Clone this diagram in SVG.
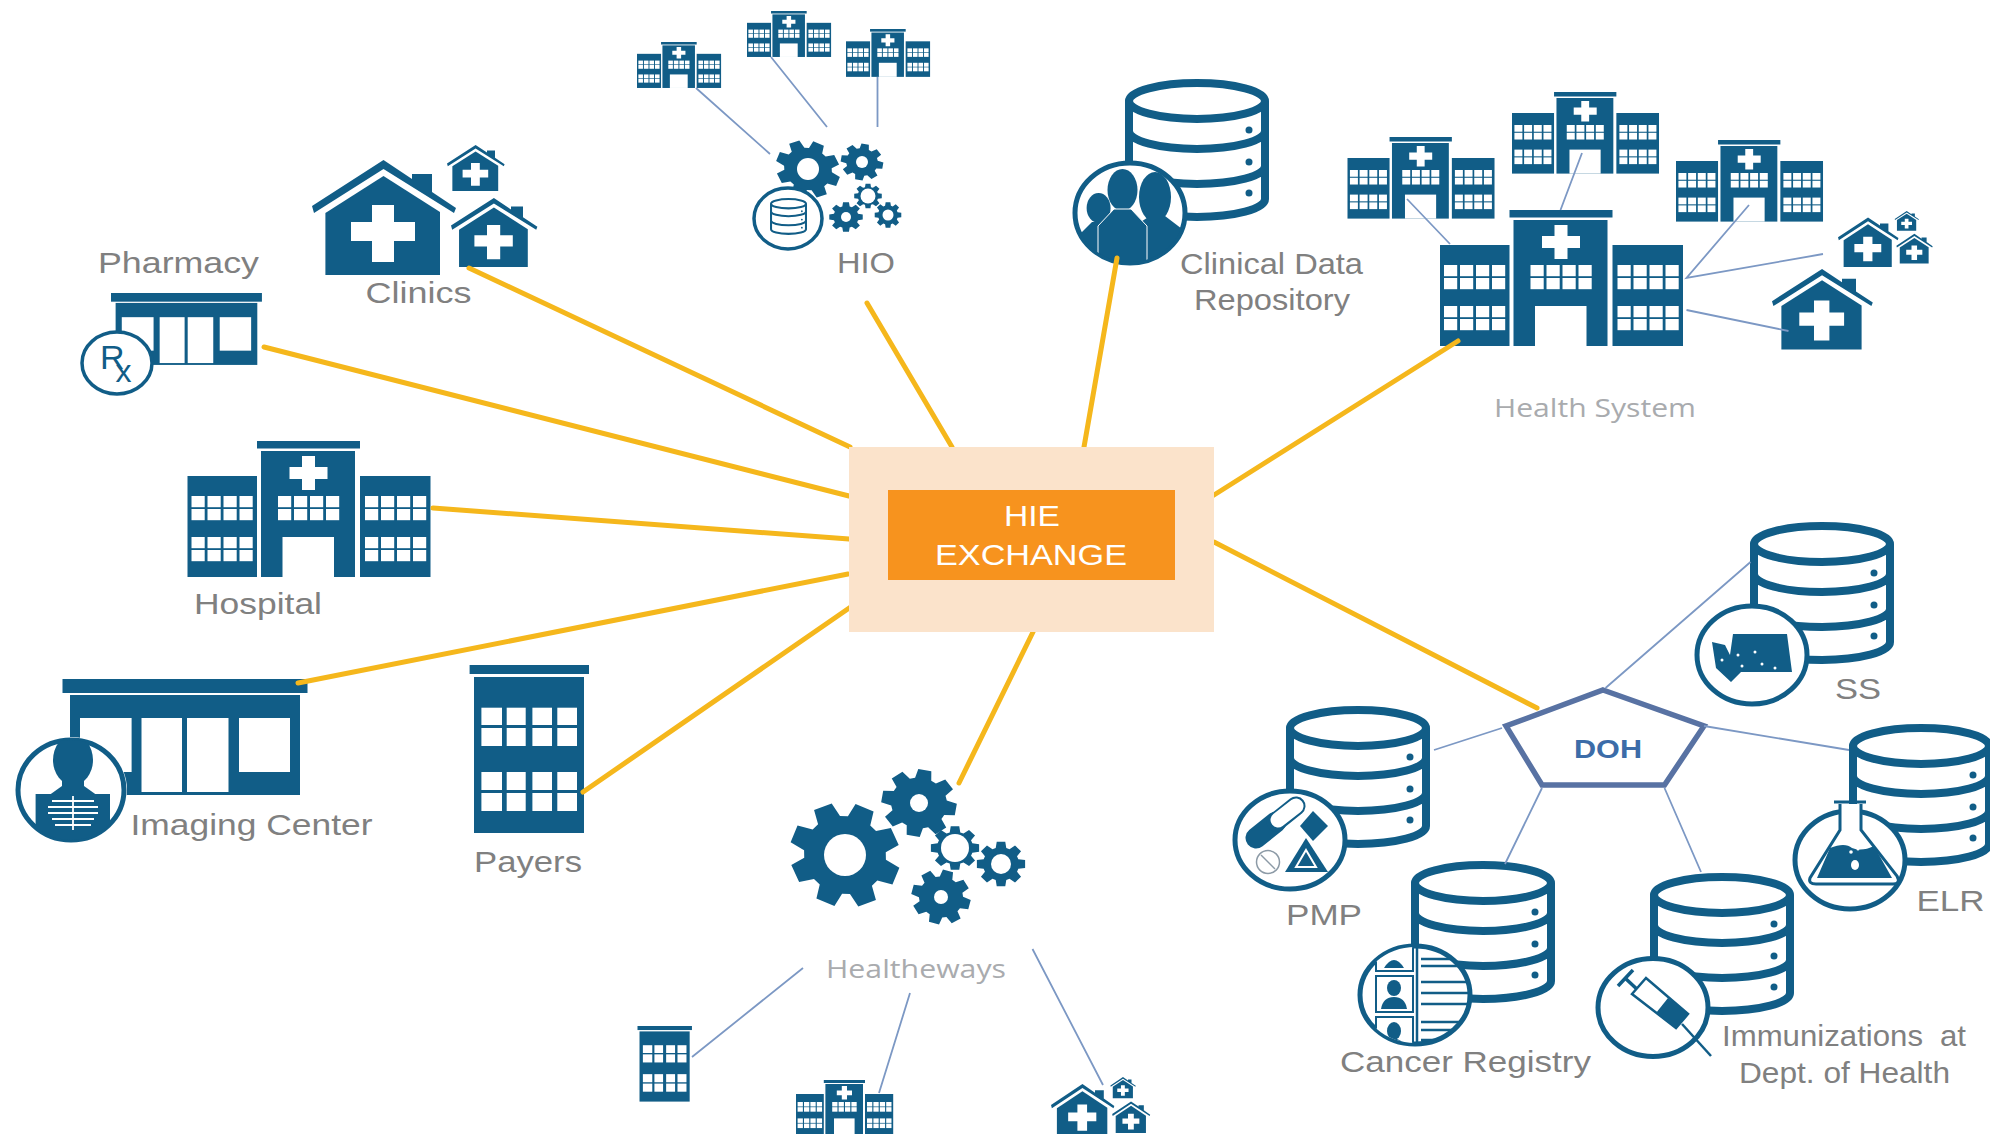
<svg xmlns="http://www.w3.org/2000/svg" width="1990" height="1134" viewBox="0 0 1990 1134">
<style>
.b{fill:#115d87}
.w{fill:#fff}
.ol{fill:#fff;stroke:#115d87;stroke-width:5}
.y{stroke:#f5b71c;stroke-width:5;fill:none;stroke-linecap:round}
.t{stroke:#7c98c4;stroke-width:1.8;fill:none}
.lb{font-family:"Liberation Sans",Arial,sans-serif;font-size:30px;fill:#808080}
.lt{font-family:"Open Sans","Liberation Sans",sans-serif;font-size:26px;fill:#a9abae}
.db{fill:none;stroke:#115d87;stroke-width:8}
</style>
<defs>
<g id="win" class="w"><rect width="13.2" height="11.2"/><rect x="16" width="13.2" height="11.2"/><rect x="32" width="13.2" height="11.2"/><rect x="48" width="13.2" height="11.2"/><rect y="13" width="13.2" height="11.2"/><rect x="16" y="13" width="13.2" height="11.2"/><rect x="32" y="13" width="13.2" height="11.2"/><rect x="48" y="13" width="13.2" height="11.2"/></g>
<g id="hosp">
<rect class="b" y="35" width="69.5" height="101"/><rect class="b" x="69.5" width="103" height="7.5"/><rect class="b" x="73.5" y="10" width="94" height="126"/><rect class="b" x="172.5" y="35" width="70.5" height="101"/>
<rect class="w" x="95" y="96" width="51.5" height="40"/>
<path class="w" d="M114.5,15H127.500V26H140V38H127.500V49H114.500V38H102V26H114.500Z"/>
<use href="#win" x="4" y="55"/><use href="#win" x="4" y="96"/><use href="#win" x="90.500" y="55"/><use href="#win" x="177.500" y="55"/><use href="#win" x="177.500" y="96"/>
</g>
<g id="house">
<path class="b" d="M0,46L71.500,0L100,19V14H120V32L144,48L142,53L71.500,9L2,53Z"/>
<path class="b" d="M13.400,53L71.500,16L128,52V115H13.400Z"/>
<path class="w" d="M60,45H82V62H103V81H82V102H60V81H39V62H60Z"/>
</g>
<g id="clinic"><use href="#house" y="15"/><use href="#house" transform="translate(135,0) scale(.4)"/><use href="#house" transform="translate(139,53) scale(.6)"/></g>
<path id="gear" class="b" d="M35.400,-10.800L49.200,-8.700L49.200,8.700L35.400,10.800L32.700,17.400L40.900,28.600L28.600,40.900L17.400,32.700L10.800,35.400L8.700,49.200L-8.700,49.200L-10.800,35.400L-17.400,32.700L-28.600,40.900L-40.900,28.600L-32.700,17.400L-35.400,10.800L-49.200,8.700L-49.200,-8.700L-35.400,-10.800L-32.700,-17.400L-40.900,-28.600L-28.600,-40.900L-17.400,-32.700L-10.800,-35.400L-8.700,-49.200L8.700,-49.200L10.800,-35.400L17.400,-32.700L28.600,-40.900L40.900,-28.600L32.700,-17.400Z"/>
<g id="db">
<path class="w" d="M4,22H140V120A68,18 0 0 1 4,120Z"/>
<ellipse class="db" cx="72" cy="22" rx="68" ry="18"/>
<path class="db" d="M4,22V120A68,18 0 0 0 140,120V22M4,52A68,18 0 0 0 140,52M4,87A68,18 0 0 0 140,87"/>
<circle class="b" cx="124" cy="51" r="3.500"/><circle class="b" cx="124" cy="83" r="3.500"/><circle class="b" cx="124" cy="114" r="3.500"/>
</g>
<g id="store">
<rect class="b" width="245" height="14"/><rect class="b" x="7.500" y="16" width="230" height="100"/>
<rect class="w" x="17.500" y="39" width="51.600" height="54"/><rect class="w" x="79" y="39" width="40.500" height="74"/><rect class="w" x="124.500" y="39" width="41.500" height="74"/><rect class="w" x="176.500" y="39" width="51" height="54"/>
</g>
<g id="office">
<rect class="b" width="119.400" height="9"/><rect class="b" x="4.400" y="12" width="110" height="156"/>
<g class="w"><rect x="11.800" y="42.700" width="20.600" height="17.300"/><rect x="37.100" y="42.700" width="19" height="17.300"/><rect x="62.800" y="42.700" width="19.600" height="17.300"/><rect x="87.700" y="42.700" width="19.700" height="17.300"/><rect x="11.800" y="63" width="20.600" height="18"/><rect x="37.100" y="63" width="19" height="18"/><rect x="62.800" y="63" width="19.600" height="18"/><rect x="87.700" y="63" width="19.700" height="18"/><rect x="11.800" y="107" width="20.600" height="18"/><rect x="37.100" y="107" width="19" height="18"/><rect x="62.800" y="107" width="19.600" height="18"/><rect x="87.700" y="107" width="19.700" height="18"/><rect x="11.800" y="128" width="20.600" height="18"/><rect x="37.100" y="128" width="19" height="18"/><rect x="62.800" y="128" width="19.600" height="18"/><rect x="87.700" y="128" width="19.700" height="18"/></g>
</g>
<clipPath id="cdrC"><ellipse cx="1130" cy="213" rx="54" ry="49"/></clipPath>
<clipPath id="canC"><ellipse cx="1415" cy="995" rx="54" ry="48"/></clipPath>
<clipPath id="imgC"><ellipse cx="71" cy="790" rx="53" ry="50"/></clipPath>
</defs>
<rect width="1990" height="1134" fill="#fff"/>

<g id="hospital"><use href="#hosp" transform="translate(187.500,441)"/><text class="lb" x="194" y="614" textLength="128" lengthAdjust="spacingAndGlyphs">Hospital</text></g>
<g id="clinics"><use href="#clinic" transform="translate(312,145)"/><text class="lb" x="365.500" y="303" textLength="106" lengthAdjust="spacingAndGlyphs">Clinics</text></g>
<g id="pharmacy"><use href="#store" transform="translate(111,293) scale(.616,.62)"/><ellipse class="ol" cx="117" cy="363" rx="35" ry="31" style="stroke-width:3.500"/>
<text x="100" y="369" font-family="Liberation Sans,sans-serif" font-size="34" fill="#115d87">R<tspan dx="-9" dy="13" font-size="32">x</tspan></text>
<text class="lb" x="98" y="273" textLength="161" lengthAdjust="spacingAndGlyphs">Pharmacy</text></g>
<g id="imaging"><use href="#store" transform="translate(62.500,679)"/>
<ellipse class="w" cx="71" cy="790" rx="56" ry="53"/><ellipse cx="71" cy="790" rx="53" ry="50" fill="none" stroke="#115d87" stroke-width="5"/>
<g clip-path="url(#imgC)"><rect class="b" x="15" y="830" width="112" height="15"/>
<ellipse class="b" cx="73" cy="760" rx="20" ry="25"/><rect class="b" x="62" y="775" width="22" height="20"/><path class="b" d="M48,796L62,786H84L98,796Z"/><rect class="b" x="35.600" y="794" width="74.400" height="36"/>
<path stroke="#fff" stroke-width="1.800" fill="none" d="M73,796V830M52,801H94M48,807H98M48,813H98M52,819H94M55,825H91"/></g>
<text class="lb" x="130.500" y="835" textLength="242" lengthAdjust="spacingAndGlyphs">Imaging Center</text></g>
<g id="payers"><use href="#office" transform="translate(469.600,665)"/><text class="lb" x="474" y="872" textLength="108" lengthAdjust="spacingAndGlyphs">Payers</text></g>

<g id="hio">
<use href="#hosp" transform="translate(637,42) scale(.346,.338)"/><use href="#hosp" transform="translate(747,11) scale(.346,.338)"/><use href="#hosp" transform="translate(846,29) scale(.346,.352)"/>
<use href="#gear" transform="translate(808,169) rotate(22.500) scale(.66,.56)"/><circle class="w" cx="808" cy="169" r="11"/>
<use href="#gear" transform="translate(862,162) rotate(10) scale(.43,.37)"/><circle class="w" cx="862" cy="162" r="6"/>
<use href="#gear" transform="translate(868,196) scale(.28,.25)"/><circle class="w" cx="868" cy="196" r="7.500"/>
<use href="#gear" transform="translate(888,215) scale(.27,.26)"/><circle class="w" cx="888" cy="215" r="5.500"/>
<use href="#gear" transform="translate(846,217) scale(.34,.3)"/><circle class="w" cx="846" cy="217" r="5"/>
<ellipse class="ol" cx="788" cy="218.500" rx="34" ry="30.500" style="stroke-width:3.500"/>
<use href="#db" transform="translate(770,198) scale(.257,.26)"/>
<text class="lb" x="837" y="273" textLength="58" lengthAdjust="spacingAndGlyphs">HIO</text></g>

<g id="cdr"><use href="#db" transform="translate(1125,79)"/>
<ellipse class="ol" cx="1130" cy="213" rx="55" ry="50"/>
<g clip-path="url(#cdrC)">
<ellipse class="b" cx="1155" cy="197" rx="16" ry="25"/><path class="b" d="M1125,270V232L1150,216H1165L1186,232V270Z"/>
<ellipse class="b" cx="1098.600" cy="208" rx="12" ry="15"/><path class="b" d="M1074,270V240L1092,222H1108L1122,240V270Z"/>
<ellipse class="b" cx="1122.500" cy="190" rx="15" ry="21"/><path class="b" stroke="#fff" stroke-width="1" d="M1098,270V226L1114,209H1131L1147,226V270Z"/>
</g>
<text class="lb" x="1180" y="274" textLength="183" lengthAdjust="spacingAndGlyphs">Clinical Data</text><text class="lb" x="1194" y="310" textLength="156" lengthAdjust="spacingAndGlyphs">Repository</text></g>

<g id="health-system">
<use href="#hosp" transform="translate(1347.500,137) scale(.605,.6)"/><use href="#hosp" transform="translate(1512,92) scale(.605,.6)"/><use href="#hosp" transform="translate(1676,140) scale(.605,.6)"/><use href="#hosp" transform="translate(1440,210)"/>
<use href="#house" transform="translate(1772,269) scale(.7)"/><use href="#clinic" transform="translate(1838,211) scale(.42,.43)"/>
<text class="lt" x="1494" y="417" textLength="202" lengthAdjust="spacingAndGlyphs">Health System</text></g>

<g id="healtheways">
<use href="#gear" transform="translate(845,855) rotate(22.500) scale(1.12,1.04)"/><circle class="w" cx="845" cy="855" r="21"/>
<use href="#gear" transform="translate(919,803) rotate(10) scale(.76,.68)"/><circle class="w" cx="919" cy="803" r="9"/>
<use href="#gear" transform="translate(955,848) scale(.49,.44)"/><circle class="w" cx="955" cy="848" r="14"/>
<use href="#gear" transform="translate(1001,864) scale(.49,.45)"/><circle class="w" cx="1001" cy="864" r="10"/>
<use href="#gear" transform="translate(941,897) rotate(15) scale(.6,.55)"/><circle class="w" cx="941" cy="897" r="7"/>
<text class="lt" x="826" y="978" textLength="180" lengthAdjust="spacingAndGlyphs">Healtheways</text>
<use href="#office" transform="translate(637.500,1026) scale(.456,.45)"/><use href="#hosp" transform="translate(796,1080) scale(.4)"/><use href="#clinic" transform="translate(1051,1077) scale(.44,.46)"/>
</g>

<g id="doh"><path d="M1603,690L1704,726L1664.500,785H1542L1506,726Z" fill="#fff" stroke="#5872a3" stroke-width="5.500"/>
<text x="1608" y="758" text-anchor="middle" font-family="Liberation Sans,sans-serif" font-size="26" font-weight="bold" fill="#3c6ca8" textLength="68" lengthAdjust="spacingAndGlyphs">DOH</text></g>

<g id="ss"><use href="#db" transform="translate(1750,522)"/><ellipse class="ol" cx="1752" cy="655" rx="55" ry="49"/>
<path class="b" d="M1712,642L1725,645L1730,655L1733,634H1787L1792,672H1756L1741,672L1731,682L1716,668Z"/><g class="w"><circle cx="1722" cy="660" r="1.500"/><circle cx="1738" cy="655" r="1.500"/><circle cx="1755" cy="652" r="1.500"/><circle cx="1762" cy="664" r="1.500"/><circle cx="1775" cy="668" r="1.500"/><circle cx="1742" cy="666" r="1.500"/></g>
<text class="lb" x="1835" y="699" textLength="46" lengthAdjust="spacingAndGlyphs">SS</text></g>

<g id="pmp"><use href="#db" transform="translate(1286,706)"/><ellipse class="ol" cx="1290" cy="840" rx="55" ry="49"/>
<path d="M1256,838L1276,822" stroke="#115d87" stroke-width="21" stroke-linecap="round"/><path d="M1276,822L1296,806" stroke="#115d87" stroke-width="19" stroke-linecap="round"/><path d="M1278,820L1296,806" stroke="#fff" stroke-width="15" stroke-linecap="round"/>
<path class="b" d="M1313,811L1328,826L1313,841L1300,826Z"/>
<path class="b" d="M1306,838L1328,872H1285Z"/><path d="M1306,850L1316,867H1296Z" fill="none" stroke="#fff" stroke-width="2"/>
<circle cx="1268" cy="862" r="11.500" fill="#fff" stroke="#8c9aa6" stroke-width="1.500"/><path d="M1261,855L1275,869" stroke="#8c9aa6" stroke-width="1.500"/>
<text class="lb" x="1286" y="925" textLength="76" lengthAdjust="spacingAndGlyphs">PMP</text></g>

<g id="cancer"><use href="#db" transform="translate(1411,861)"/><ellipse class="ol" cx="1415" cy="995" rx="55" ry="49"/>
<g clip-path="url(#canC)">
<rect x="1376" y="976" width="37" height="36" fill="#fff" stroke="#115d87" stroke-width="2"/><rect x="1376" y="945" width="37" height="26" fill="#fff" stroke="#115d87" stroke-width="2"/><rect x="1376" y="1017" width="37" height="30" fill="#fff" stroke="#115d87" stroke-width="2"/>
<ellipse class="b" cx="1394" cy="988" rx="7" ry="8"/><path class="b" d="M1381,1009Q1383,997 1394,997Q1405,997 1407,1009Z"/>
<path class="b" d="M1384,968Q1394,952 1404,968Z"/><ellipse class="b" cx="1394" cy="1031" rx="7" ry="9"/><path class="b" d="M1381,1047Q1394,1030 1407,1047Z"/>
<path stroke="#115d87" stroke-width="2.500" fill="none" d="M1421,959H1470M1421,966H1470M1421,982H1470M1421,993H1470M1421,1004H1470M1421,1022H1470M1421,1030H1470M1421,1040H1470"/>
<path stroke="#115d87" stroke-width="2.500" d="M1417,945V1047"/></g>
<text class="lb" x="1340" y="1072" textLength="251" lengthAdjust="spacingAndGlyphs">Cancer Registry</text></g>

<g id="immunizations"><use href="#db" transform="translate(1650,873)"/><ellipse class="ol" cx="1653" cy="1007.500" rx="55" ry="49"/>
<path d="M1618,986L1633,970M1625,978L1640,992" stroke="#115d87" stroke-width="3.500" fill="none"/>
<path d="M1632,994L1646,978L1688,1014L1676,1028Z" fill="#fff" stroke="#115d87" stroke-width="2.500"/><path class="b" d="M1656,1013L1668,998L1688,1014L1676,1028Z"/>
<path d="M1682,1024L1711,1056" stroke="#115d87" stroke-width="2.500"/>
<text class="lb" x="1722" y="1046" textLength="244" lengthAdjust="spacingAndGlyphs" word-spacing="8">Immunizations at</text><text class="lb" x="1739" y="1083" textLength="211" lengthAdjust="spacingAndGlyphs">Dept. of Health</text></g>

<g id="elr"><use href="#db" transform="translate(1849,724)"/><ellipse class="ol" cx="1850" cy="860" rx="55" ry="49"/>
<path d="M1834,802H1866M1840,804V830L1810,878Q1808,884 1816,884H1893Q1901,884 1897,876L1861,830V804" fill="#fff" stroke="#115d87" stroke-width="3"/>
<path class="b" d="M1830,848Q1845,842 1852,848Q1862,852 1874,846L1892,878H1817Z"/>
<ellipse class="w" cx="1855" cy="865" rx="4" ry="5"/><circle class="w" cx="1851" cy="852" r="1.800"/><circle class="w" cx="1858" cy="849" r="1.500"/>
<text class="lb" x="1916.500" y="911" textLength="68" lengthAdjust="spacingAndGlyphs">ELR</text></g>

<g id="connectors">
<path class="y" d="M469,268L850,447M264,347L849,496M433,508L849,539M298,683L848,574M583,792L855,604M959,783L1033,632M867,303L952,447M1117,258L1084,447M1458,341L1214,495M1214,542L1537,708"/>
<path class="t" d="M696,88L770,154M771,57L827,127M877.500,77V127M1407,199L1450,244M1582,153L1560.500,210M1749,205L1686.500,278L1823,254M1686.500,310L1788.500,331M1605.500,688L1750.500,562M1704,726L1849,750M1664.500,788L1701,872M1542,788L1505,864M1502,728L1434,750M803,968L692,1057M910,993L879,1093M1032.500,949L1103,1085"/>
</g>

<g id="hie-exchange"><rect x="849" y="447" width="365" height="185" fill="#fbe3cb"/><rect x="888" y="490" width="287" height="90" fill="#f7931e"/>
<text x="1032" y="526" text-anchor="middle" font-family="Liberation Sans,sans-serif" font-size="30" fill="#fff" textLength="56" lengthAdjust="spacingAndGlyphs">HIE</text><text x="1031" y="565" text-anchor="middle" font-family="Liberation Sans,sans-serif" font-size="30" fill="#fff" textLength="192" lengthAdjust="spacingAndGlyphs">EXCHANGE</text></g>
</svg>
